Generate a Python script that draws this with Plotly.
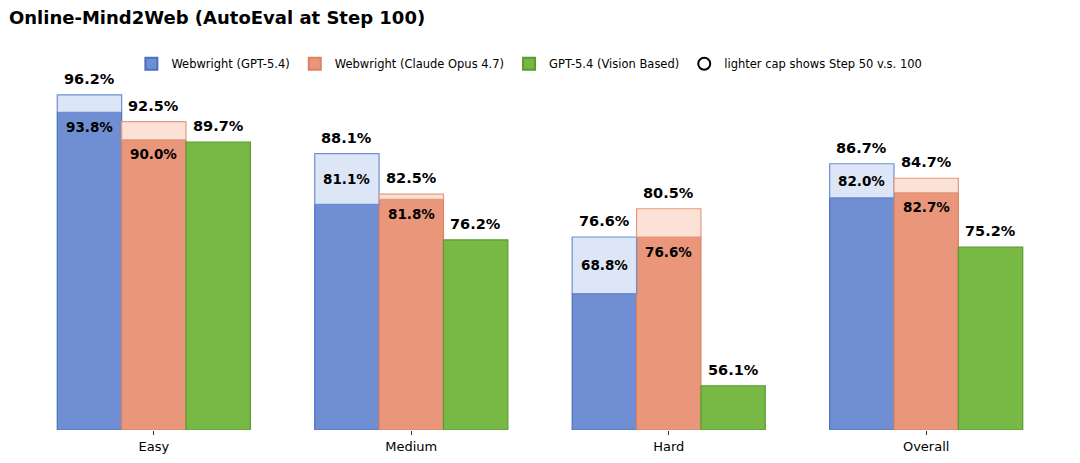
import plotly.graph_objects as go

# values
categories = ["Easy", "Medium", "Hard", "Overall"]
gpt_step50 = [93.8, 81.1, 68.8, 82.0]
gpt_step100 = [96.2, 88.1, 76.6, 86.7]
claude_step50 = [90.0, 81.8, 76.6, 82.7]
claude_step100 = [92.5, 82.5, 80.5, 84.7]
vision_step100 = [89.7, 76.2, 56.1, 75.2]

FONT = "DejaVu Sans"
width = 0.25
base = 50
x = list(range(len(categories)))

series = [
    # name, step50, step100, fill, edge, cap fill, cap edge, offset
    ("Webwright (GPT-5.4)", gpt_step50, gpt_step100,
     "#6F8FD2", "#4E6FBF", "#DCE6F7", "#6F8FD2", -1),
    ("Webwright (Claude Opus 4.7)", claude_step50, claude_step100,
     "#E9967A", "#DC8262", "#FCE1D6", "#E49A7E", 0),
]

fig = go.Figure()
annotations = []


def top_label(xv, yv):
    annotations.append(dict(
        x=xv, y=yv, xref="x", yref="y", text=f"<b>{yv:.1f}%</b>",
        showarrow=False, yanchor="bottom", yshift=6,
        font=dict(family=FONT, size=14.5, color="#000000")))


caps = []
for name, s50, s100, fill, edge, cfill, cedge, off in series:
    xs = [i + off * width for i in x]
    fig.add_trace(go.Bar(
        x=xs, y=[v - base for v in s50], base=base, width=width, name=name,
        marker=dict(color=fill, line=dict(color=edge, width=1.2)),
    ))
    caps.append(go.Bar(
        x=xs, y=[b - a for a, b in zip(s50, s100)], base=s50, width=width,
        showlegend=False, hoverinfo="skip",
        marker=dict(color=cfill, line=dict(color=cedge, width=1.2)),
    ))
    for xv, a, b in zip(xs, s50, s100):
        top_label(xv, b)
        # inner label: centred in the cap if it is tall, else just below it
        yl = (a + b) / 2 if b - a >= 4.5 else a - 2.0
        annotations.append(dict(
            x=xv, y=yl, xref="x", yref="y", text=f"<b>{a:.1f}%</b>",
            showarrow=False, yanchor="middle",
            font=dict(family=FONT, size=13.5, color="#000000")))

xs = [i + width for i in x]
fig.add_trace(go.Bar(
    x=xs, y=[v - base for v in vision_step100], base=base, width=width,
    name="GPT-5.4 (Vision Based)",
    marker=dict(color="#77B944", line=dict(color="#5A9A2E", width=1.2)),
))
for xv, v in zip(xs, vision_step100):
    top_label(xv, v)

fig.add_trace(go.Scatter(
    x=[None], y=[None], mode="markers", name="lighter cap shows Step 50 v.s. 100",
    marker=dict(symbol="circle-open", size=11, color="#000000",
                line=dict(width=1.5, color="#000000")),
))
for c in caps:
    fig.add_trace(c)

fig.update_layout(
    width=1080, height=463,
    paper_bgcolor="white", plot_bgcolor="white",
    margin=dict(l=9, r=9, t=60, b=30),
    barmode="overlay",
    font=dict(family=FONT, color="#000000"),
    title=dict(text="<b>Online-Mind2Web (AutoEval at Step 100)</b>",
               x=9 / 1080, xref="container", xanchor="left",
               y=1 - 18 / 463, yref="container", yanchor="middle",
               font=dict(family=FONT, size=18, color="#000000")),
    legend=dict(orientation="h", x=0.49, xanchor="center", y=0.99, yanchor="middle",
                bgcolor="rgba(0,0,0,0)", font=dict(family=FONT, size=11.5),
                itemsizing="constant", traceorder="normal"),
    annotations=annotations,
    showlegend=True,
)
fig.update_xaxes(
    range=[-0.5625, 3.5625], tickmode="array", tickvals=x, ticktext=categories,
    ticks="outside", ticklen=4, tickcolor="#333333", showline=False,
    showgrid=False, zeroline=False, tickfont=dict(family=FONT, size=13),
)
fig.update_yaxes(range=[50, 101], visible=False, showgrid=False, zeroline=False)

# drop the default page margin so the figure sits at the window's corner
fig.write_html("out.html", config={"displayModeBar": False},
               post_script="document.body.style.margin='0';")
